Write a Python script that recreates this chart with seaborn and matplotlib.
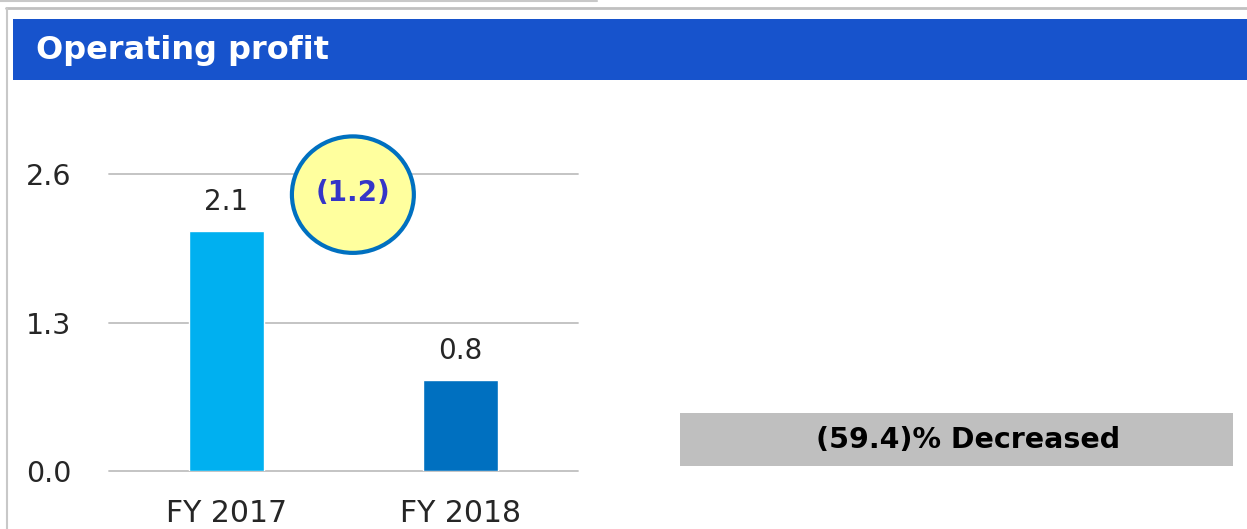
import numpy as np
import pandas as pd
import matplotlib
matplotlib.use("Agg")
import matplotlib.pyplot as plt
import seaborn as sns
from matplotlib.patches import Rectangle, Ellipse
from matplotlib.lines import Line2D

# data
years = ["FY 2017", "FY 2018"]
profit = [2.1, 0.8]
bar_colors = ["#00B0F0", "#0070C0"]
y_ticks = [0.0, 1.3, 2.6]
change_label = "(1.2)"
pct_label = "(59.4)% Decreased"
title = "Operating profit"

df = pd.DataFrame({"year": years, "profit": profit})

sns.set_theme(style="white")
plt.rcParams["font.family"] = ["DejaVu Sans"]

W, H = 1247, 529
fig = plt.figure(figsize=(W / 100, H / 100), dpi=100)


def fx(px):
    return px / W


def fy(py):
    return 1 - py / H


# panel frame and header
fig.add_artist(Line2D([fx(0), fx(597)], [fy(0.5), fy(0.5)], color="#C8C8C8", lw=1.5))
fig.add_artist(Line2D([fx(6), fx(1247)], [fy(8), fy(8)], color="#C0C0C0", lw=2))
fig.add_artist(Line2D([fx(6.5), fx(6.5)], [fy(8), fy(529)], color="#C8C8C8", lw=1.5))
fig.add_artist(Rectangle((fx(13), fy(80)), fx(1247 - 13), (80 - 19) / H,
                         color="#1753CC", lw=0))
fig.text(fx(36), fy(50), title, color="white", fontsize=23, fontweight="bold",
         va="center", ha="left")

# chart axes: y=0 at px 471, 114.2 px per unit
unit = 114.2
ymax = 3.0
ax = fig.add_axes([fx(109), fy(471), fx(578 - 109), ymax * unit / H])

sns.barplot(data=df, x="year", y="profit", hue="year", palette=bar_colors,
            width=0.32, legend=False, ax=ax, saturation=1)
ax.set_xlim(-0.5, 1.5)
ax.set_ylim(0, ymax)
ax.set_yticks(y_ticks)
ax.set_yticklabels([f"{v:.1f}" for v in y_ticks])
for v in y_ticks:
    ax.axhline(v, color="#BFBFBF", lw=1.3, zorder=0, clip_on=False)
for s in ax.spines.values():
    s.set_visible(False)
ax.tick_params(axis="y", length=0, pad=60, labelsize=20.5, labelcolor="#262626")
ax.tick_params(axis="x", length=0, pad=20, labelsize=21.5, labelcolor="#262626")
for lab in ax.get_yticklabels():
    lab.set_horizontalalignment("left")
ax.set_xlabel("")
ax.set_ylabel("")
ax.grid(False)

for i, v in enumerate(profit):
    ax.text(i, v + 0.13, f"{v:.1f}", ha="center", va="bottom", fontsize=20,
            color="#262626")

# change bubble
ax.add_patch(Ellipse((0.54, 2.42), 0.52, 1.02, facecolor="#FFFF9E",
                     edgecolor="#0070C0", lw=3, clip_on=False, zorder=5))
ax.text(0.54, 2.43, change_label, ha="center", va="center", fontsize=20,
        fontweight="bold", color="#3535C8", zorder=6)

# percentage box
fig.add_artist(Rectangle((fx(680), fy(466)), fx(1233 - 680), (466 - 413) / H,
                         color="#BFBFBF", lw=0))
fig.text(fx(968), fy(440), pct_label, ha="center", va="center", fontsize=20.5,
         fontweight="bold", color="black")

fig.savefig("out.png", dpi=100)
